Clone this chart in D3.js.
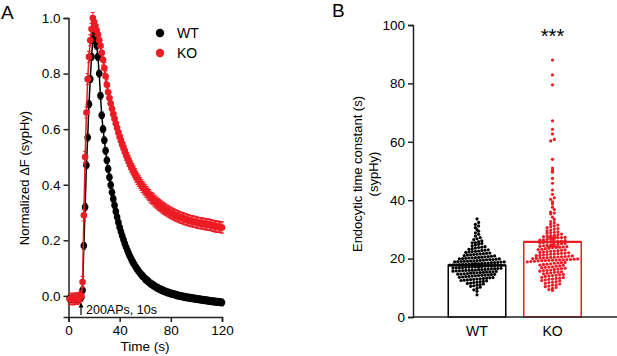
<!DOCTYPE html>
<html>
<head>
<meta charset="utf-8">
<script src="https://cdn.jsdelivr.net/npm/d3@7"></script>
<style>
body { margin: 0; background: #fff; }
svg { display: block; font-family: Arial, "Liberation Sans", sans-serif; }
</style>
</head>
<body>
<svg id="chart" width="617" height="356"></svg>
<script>
// ---- panel A: sypHy traces, one frame per second
var groups = ['WT', 'KO'];
var frameSeconds = 1;
var wtTrace = [-0.010,-0.012,-0.011,-0.010,-0.012,-0.009,-0.011,-0.010,-0.008,-0.005,
    0.020,0.180,0.320,0.470,0.570,0.690,0.780,0.860,0.920,0.940,
    0.930,0.900,0.860,0.800,0.720,0.650,0.600,0.560,0.522,0.488,
    0.457,0.427,0.399,0.373,0.349,0.326,0.304,0.284,0.265,0.247,
    0.231,0.216,0.202,0.188,0.176,0.164,0.153,0.143,0.133,0.124,
    0.116,0.108,0.101,0.094,0.088,0.082,0.076,0.071,0.066,0.061,
    0.057,0.053,0.049,0.045,0.042,0.039,0.036,0.033,0.030,0.028,
    0.025,0.023,0.021,0.019,0.017,0.015,0.013,0.012,0.010,0.009,
    0.007,0.006,0.005,0.004,0.002,0.001,0.000,-0.001,-0.002,-0.003,
    -0.004,-0.005,-0.006,-0.006,-0.007,-0.008,-0.009,-0.009,-0.010,-0.011,
    -0.012,-0.012,-0.013,-0.014,-0.014,-0.015,-0.016,-0.016,-0.017,-0.018,
    -0.018,-0.019,-0.020,-0.020,-0.021,-0.021,-0.022,-0.022,-0.023,-0.024];
var koTrace = [-0.012,-0.010,-0.011,-0.013,-0.010,-0.009,-0.011,-0.008,-0.006,0.000,
    0.050,0.290,0.500,0.660,0.780,0.860,0.920,0.960,1.000,0.985,
    0.970,0.955,0.940,0.920,0.900,0.875,0.850,0.820,0.790,0.760,
    0.733,0.712,0.692,0.673,0.654,0.637,0.620,0.604,0.588,0.573,
    0.559,0.546,0.533,0.520,0.508,0.497,0.486,0.475,0.465,0.456,
    0.447,0.438,0.429,0.421,0.414,0.406,0.399,0.392,0.386,0.380,
    0.374,0.368,0.363,0.357,0.352,0.348,0.343,0.339,0.335,0.330,
    0.327,0.323,0.319,0.316,0.313,0.310,0.307,0.304,0.301,0.299,
    0.296,0.294,0.291,0.289,0.287,0.285,0.283,0.281,0.280,0.278,
    0.276,0.275,0.273,0.272,0.270,0.269,0.268,0.267,0.266,0.265,
    0.263,0.262,0.262,0.261,0.260,0.259,0.258,0.257,0.257,0.256,
    0.255,0.254,0.252,0.251,0.250,0.249,0.249,0.248,0.247,0.246];
var traceSem = [0.012, 0.02];
var timeTicks = [0, 40, 80, 120];
var dfTicks = [0, 0.2, 0.4, 0.6, 0.8, 1.0];

// ---- panel B: endocytic time constants (s)
var tauTicks = [0, 20, 40, 60, 80, 100];
var tauMeans = [17.7, 25.7];
var tauSem = [0.4, 1.6];
var wtTau = [7.6, 8.8, 9.3, 9.8, 10.2, 10.5, 10.7, 10.9,
    11.1, 11.3, 11.5, 11.6, 11.8, 11.9,
    12.1, 12.2, 12.4, 12.5, 12.6, 12.7, 12.9, 12.8,
    13.0, 13.1, 13.2, 13.4, 13.5, 13.6, 13.7, 13.8, 13.9, 13.3,
    14.0, 14.1, 14.2, 14.3, 14.4, 14.5, 14.6, 14.7, 14.8, 14.9, 14.35, 14.65,
    15.0, 15.1, 15.15, 15.2, 15.3, 15.4, 15.45, 15.5, 15.6, 15.7, 15.75, 15.8, 15.9, 15.95,
    16.0, 16.05, 16.1, 16.2, 16.25, 16.3, 16.4, 16.5, 16.55, 16.6, 16.7, 16.75, 16.8, 16.9, 16.95,
    17.0, 17.05, 17.1, 17.2, 17.25, 17.3, 17.4, 17.45, 17.5, 17.6, 17.65, 17.7, 17.8, 17.85, 17.9, 17.95,
    18.0, 18.05, 18.1, 18.2, 18.25, 18.3, 18.4, 18.45, 18.5, 18.6, 18.65, 18.7, 18.8, 18.85, 18.9, 18.95,
    19.0, 19.1, 19.15, 19.2, 19.3, 19.4, 19.5, 19.6, 19.65, 19.7, 19.8, 19.9, 19.95, 19.05,
    20.0, 20.1, 20.2, 20.3, 20.4, 20.5, 20.6, 20.7, 20.8, 20.9, 20.25,
    21.0, 21.2, 21.3, 21.5, 21.6, 21.7, 21.8, 21.9, 21.4,
    22.1, 22.3, 22.4, 22.6, 22.8, 22.9, 22.5,
    23.0, 23.2, 23.4, 23.6, 23.8, 23.9,
    24.1, 24.4, 24.7, 24.9, 25.2, 25.5, 25.8, 25.4,
    26.1, 26.5, 26.8, 27.2, 27.7, 28.3, 28.8, 29.4, 29.9,
    30.6, 31.2, 31.7, 32.4, 33.6];
var koTau = [9.1, 9.4, 9.8, 10.1, 10.4, 10.6, 10.9,
    11.0, 11.3, 11.5, 11.8, 11.9, 12.1, 12.4, 12.5, 12.7, 12.9,
    13.0, 13.3, 13.5, 13.6, 13.9, 13.2, 14.0, 14.2, 14.5, 14.8, 14.6, 14.3,
    15.0, 15.1, 15.4, 15.7, 15.9, 15.5, 15.3, 16.0, 16.3, 16.6, 16.9, 16.4, 16.1, 16.7,
    17.0, 17.2, 17.5, 17.8, 17.4, 17.1, 17.7, 18.1, 18.4, 18.7, 18.0, 18.5, 18.9, 18.2, 18.6,
    19.0, 19.2, 19.3, 19.4, 19.5, 19.6, 19.7, 19.8, 19.1, 19.45, 19.55, 19.65, 19.35, 19.9,
    20.0, 20.2, 20.5, 20.8, 20.1, 20.3, 20.6, 20.9, 20.4, 20.7, 20.25, 20.55,
    21.0, 21.3, 21.6, 21.8, 21.1, 21.4, 21.7, 21.9, 21.5,
    22.1, 22.4, 22.7, 22.0, 22.3, 22.6, 22.9, 22.5,
    23.0, 23.2, 23.5, 23.8, 23.1, 23.4, 23.7, 23.9,
    24.0, 24.2, 24.4, 24.6, 24.8, 24.1, 24.5, 24.9,
    25.1, 25.3, 25.5, 25.7, 25.9, 25.2, 25.6, 25.8,
    26.0, 26.2, 26.4, 26.6, 26.8, 26.3, 26.7,
    27.1, 27.3, 27.5, 27.9, 27.2, 27.7, 28.0, 28.2, 28.4, 28.7, 28.9,
    29.0, 29.2, 29.5, 29.8, 30.1, 30.3, 30.6, 30.9, 31.2, 31.5, 31.8,
    32.3, 32.7, 33.4, 34.2, 35.3, 35.6, 35.9, 36.8, 37.6, 38.7, 39.4, 40.3, 40.8,
    42.0, 43.5, 45.8, 47.5, 49.6, 50.2, 51.0, 54.0, 60.3, 60.8, 62.7, 64.3, 67.2, 79.5, 82.9, 88.0];

var colors = ['#000000', '#ec1c24'];
var axisColor = '#222';

var svg = d3.select('#chart');

function styleAxis(g) {
    g.selectAll('path, line').attr('stroke', axisColor).attr('stroke-width', 1.5);
    g.selectAll('text').attr('fill', '#000').style('font-size', '13.5px');
}

// ================= Panel A =================
var xA = d3.scaleLinear().domain([0, 120]).range([68.5, 222]);
var yA = d3.scaleLinear().domain([-0.076, 1.0]).range([317, 18]);

svg.append('g').attr('transform', 'translate(0,317)')
    .call(d3.axisBottom(xA).tickValues(timeTicks).tickSizeOuter(0).tickSize(5).tickPadding(3))
    .call(styleAxis);
svg.append('g').attr('transform', 'translate(68.5,0)')
    .call(d3.axisLeft(yA).tickValues(dfTicks).tickFormat(d3.format('.1f')).tickSizeOuter(0).tickSize(5).tickPadding(3))
    .call(styleAxis);

var traces = [wtTrace, koTrace];
traces.forEach(function(trace, s) {
    var pts = trace.map(function(v, i) { return { t: (i + 1) * frameSeconds, v: v }; });
    var g = svg.append('g');
    g.append('path')
        .attr('d', d3.line().x(function(d) { return xA(d.t); }).y(function(d) { return yA(d.v); })(pts))
        .attr('fill', 'none').attr('stroke', colors[s]).attr('stroke-width', 1.5);
    var e = traceSem[s];
    g.selectAll('.err').data(pts).enter().append('path')
        .attr('d', function(d) {
            var x = xA(d.t), y0 = yA(d.v - e), y1 = yA(d.v + e);
            return 'M' + x + ',' + y0 + 'V' + y1 + 'M' + (x - 2) + ',' + y0 + 'h4M' + (x - 2) + ',' + y1 + 'h4';
        })
        .attr('stroke', colors[s]).attr('stroke-width', 1).attr('fill', 'none');
    g.selectAll('circle').data(pts).enter().append('circle')
        .attr('cx', function(d) { return xA(d.t); })
        .attr('cy', function(d) { return yA(d.v); })
        .attr('r', 3.3)
        .attr('fill', colors[s]);
});

// legend
groups.forEach(function(name, s) {
    svg.append('circle').attr('cx', 160).attr('cy', 33 + s * 20).attr('r', 4.2).attr('fill', colors[s]);
    svg.append('text').attr('x', 177).attr('y', 33 + s * 20).attr('dy', '0.36em')
        .style('font-size', '14px').text(name);
});

// stimulus annotation
svg.append('path').attr('d', 'M81,315V304').attr('stroke', '#000').attr('stroke-width', 1.2);
svg.append('path').attr('d', 'M78.5,307.5L81,302.5L83.5,307.5Z').attr('fill', '#000');
svg.append('text').attr('x', 86).attr('y', 314).style('font-size', '12.5px').text('200APs, 10s');

svg.append('text').attr('x', 145).attr('y', 351).attr('text-anchor', 'middle')
    .style('font-size', '13.5px').text('Time (s)');
svg.append('text').attr('transform', 'translate(29,178) rotate(-90)').attr('text-anchor', 'middle')
    .style('font-size', '13px').text('Normalized  ΔF (sypHy)');
svg.append('text').attr('x', 1).attr('y', 19).style('font-size', '19px').text('A');

// ================= Panel B =================
var xB = d3.scaleBand().domain(groups).range([410.5, 619]).paddingInner(0.238).paddingOuter(0.5);
var yB = d3.scaleLinear().domain([0, 100]).range([317, 25]);

var gB = svg.append('g');
groups.forEach(function(name, s) {
    gB.append('rect')
        .attr('x', xB(name)).attr('y', yB(tauMeans[s]))
        .attr('width', xB.bandwidth()).attr('height', yB(0) - yB(tauMeans[s]))
        .attr('fill', '#fff').attr('stroke', colors[s]).attr('stroke-width', 1.5);
});

// scatter: points in rows, spread sideways around the group centre
var rowH = 3.1, dx = [3.2, 3.6];
[wtTau, koTau].forEach(function(vals, s) {
    var cx = xB(groups[s]) + xB.bandwidth() / 2;
    var rows = d3.group(vals, function(v) { return Math.round(yB(v) / rowH); });
    rows.forEach(function(list) {
        list.sort(d3.ascending);
        list.forEach(function(v, i) {
            gB.append('circle')
                .attr('cx', cx + (i - (list.length - 1) / 2) * dx[s])
                .attr('cy', yB(v))
                .attr('r', 1.6)
                .attr('fill', colors[s]);
        });
    });
});

// mean line + sem
groups.forEach(function(name, s) {
    var x0 = xB(name), w = xB.bandwidth(), cx = x0 + w / 2;
    var m = tauMeans[s], e = tauSem[s];
    gB.append('path')
        .attr('d', 'M' + x0 + ',' + yB(m) + 'h' + w)
        .attr('stroke', colors[s]).attr('stroke-width', 2.2);
    gB.append('path')
        .attr('d', 'M' + cx + ',' + yB(m - e) + 'V' + yB(m + e) +
            'M' + (cx - 6) + ',' + yB(m - e) + 'h12M' + (cx - 6) + ',' + yB(m + e) + 'h12')
        .attr('stroke', colors[s]).attr('stroke-width', 2.2).attr('fill', 'none');
});

svg.append('g').attr('transform', 'translate(413,0)')
    .call(d3.axisLeft(yB).tickValues(tauTicks).tickSizeOuter(0).tickSize(5).tickPadding(3))
    .call(styleAxis);
svg.append('line').attr('x1', 413).attr('x2', 617).attr('y1', 317).attr('y2', 317)
    .attr('stroke', axisColor).attr('stroke-width', 1.5);

groups.forEach(function(name) {
    svg.append('text').attr('x', xB(name) + xB.bandwidth() / 2).attr('y', 336)
        .attr('text-anchor', 'middle').style('font-size', '14px').text(name);
});
svg.append('text').attr('x', xB('KO') + xB.bandwidth() / 2).attr('y', 43)
    .attr('text-anchor', 'middle').style('font-size', '20px').text('***');

var yLab = svg.append('text').attr('transform', 'translate(362,174) rotate(-90)')
    .attr('text-anchor', 'middle').style('font-size', '13px');
yLab.append('tspan').attr('x', 0).attr('dy', 0).text('Endocytic time constant (s)');
yLab.append('tspan').attr('x', 0).attr('dy', '1.25em').text('(sypHy)');
svg.append('text').attr('x', 332).attr('y', 17).style('font-size', '19px').text('B');
</script>
</body>
</html>
